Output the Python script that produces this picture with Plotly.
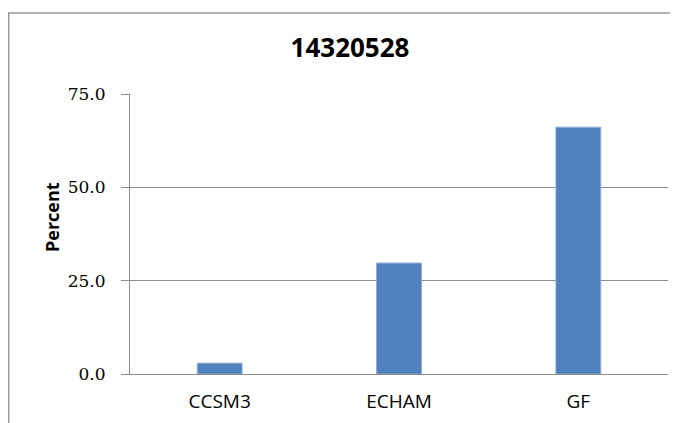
import plotly.graph_objects as go

# chart data
models = ["CCSM3", "ECHAM", "GF"]
percent = [2.9, 29.7, 66.1]
y_ticks = [0, 25, 50, 75]
title_text = "14320528"
y_title = "Percent"

# the page body keeps its default 8px margin, so the figure is 8px smaller
W, H = 670, 415
M_L, M_R, M_T, M_B = 122, 10, 86, 49
plot_w = W - M_L - M_R
plot_h = H - M_T - M_B


def px_x(px):
    # figure pixel column -> paper x
    return (px - M_L) / plot_w


def px_y(py):
    # figure pixel row -> paper y
    return (H - M_B - py) / plot_h


fig = go.Figure(
    go.Bar(
        x=models,
        y=percent,
        marker=dict(color="#4F81BD", line=dict(color="#8AABD6", width=1)),
        width=0.25,
    )
)

fig.update_layout(
    width=W,
    height=H,
    margin=dict(l=M_L, r=M_R, t=M_T, b=M_B),
    paper_bgcolor="white",
    plot_bgcolor="white",
    showlegend=False,
    title=dict(
        text=f"<b>{title_text}</b>",
        x=px_x(342), xanchor="center", xref="paper",
        y=1 - 40 / H, yanchor="middle",
        font=dict(family="Open Sans", size=26, color="black"),
    ),
    xaxis=dict(
        showgrid=False,
        showline=True,
        linecolor="#8C8C8C",
        linewidth=1,
        ticks="",
        tickfont=dict(family="Open Sans", size=19, color="black"),
        ticklabelstandoff=10,
    ),
    yaxis=dict(
        range=[0, 75],
        tickvals=y_ticks,
        tickformat=".1f",
        showgrid=True,
        gridcolor="#8C8C8C",
        gridwidth=1,
        showline=True,
        linecolor="#8C8C8C",
        linewidth=1,
        ticks="outside",
        ticklen=8,
        tickcolor="#8C8C8C",
        tickfont=dict(family="DejaVu Serif", size=17, color="black"),
        ticklabelstandoff=12,
        zeroline=False,
    ),
    annotations=[
        dict(
            text=f"<b>{y_title}</b>",
            textangle=-90,
            x=px_x(44), y=px_y(209),
            xref="paper", yref="paper",
            xanchor="center", yanchor="middle",
            showarrow=False,
            font=dict(family="Open Sans", size=18, color="black"),
        )
    ],
    shapes=[
        # outer chart border (left and top edges visible in the crop)
        dict(type="line", xref="paper", yref="paper",
             x0=px_x(0.75), x1=px_x(0.75), y0=px_y(H), y1=px_y(5),
             line=dict(color="#9A9A9A", width=1.5)),
        dict(type="line", xref="paper", yref="paper",
             x0=px_x(0), x1=px_x(W), y0=px_y(5), y1=px_y(5),
             line=dict(color="#9A9A9A", width=1.5)),
    ],
)

fig.write_html("out.html")
